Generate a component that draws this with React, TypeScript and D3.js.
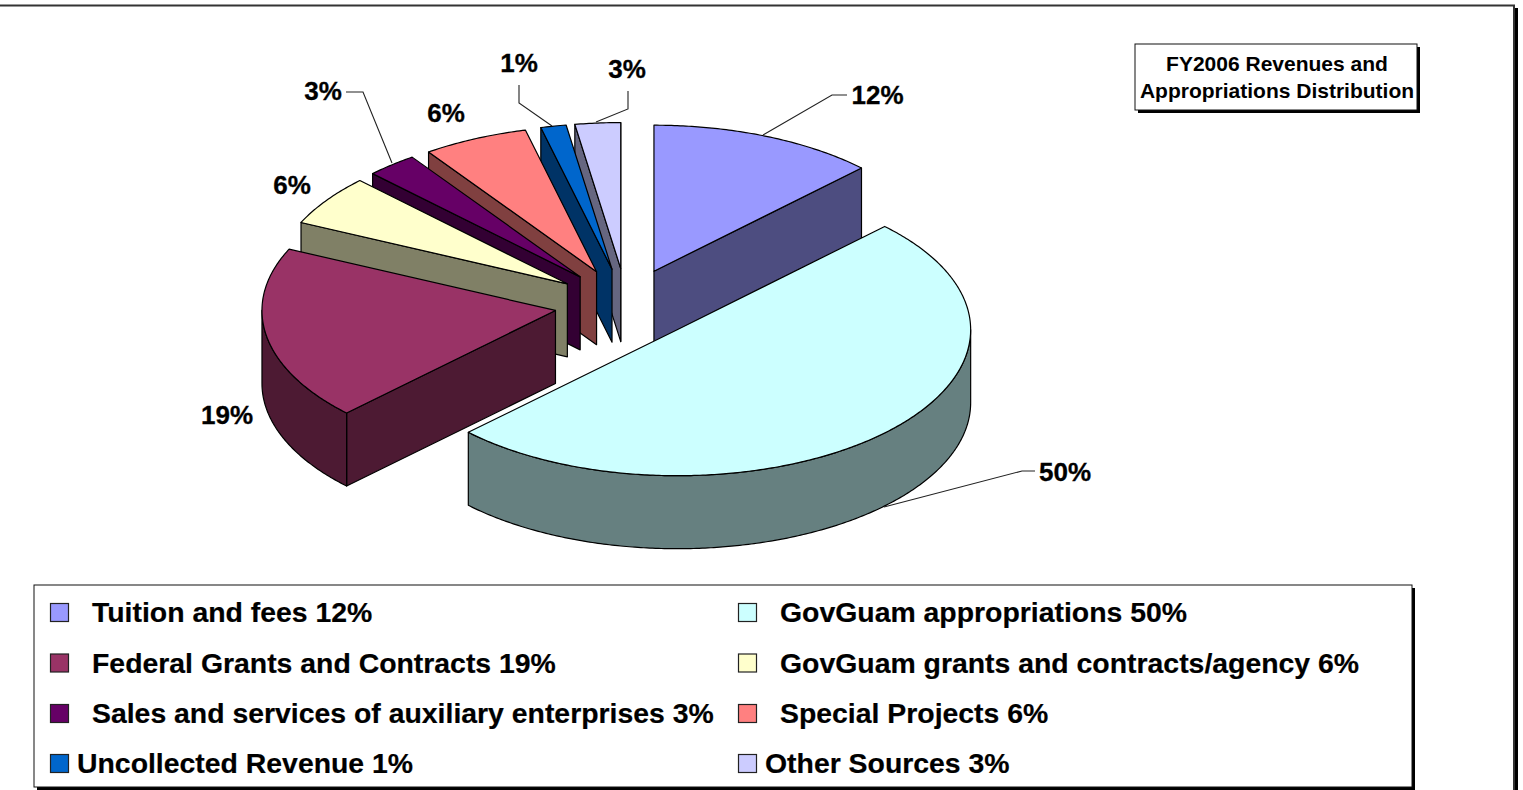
import React from "react";
import * as d3 from "d3";

const categories = ["Tuition and fees", "GovGuam appropriations", "Federal Grants and Contracts", "GovGuam grants and contracts/agency", "Sales and services of auxiliary enterprises", "Special Projects", "Uncollected Revenue", "Other Sources"];
const values = [12.5, 50.1, 19.3, 5.6, 2.8, 5.8, 1.4, 2.5];
const percentLabels = ["12%", "50%", "19%", "6%", "3%", "6%", "1%", "3%"];
const topColors = ["#9999FF", "#CCFFFF", "#993366", "#FFFFCC", "#660066", "#FF8080", "#0066CC", "#CCCCFF"];
const sideColors = ["#4D4D80", "#668080", "#4D1A33", "#808066", "#330033", "#804040", "#003366", "#666680"];
const labelX = [877.5, 1065, 227, 292, 323, 446, 519, 627];
const labelY = [104, 481, 424, 194, 100, 122, 71.5, 78];
const leaders: ([number, number][] | null)[] = [
  [[763, 135], [832, 95], [847, 95]],
  [[884, 507], [1022, 471], [1035, 471]],
  null,
  null,
  [[392, 163], [363, 92], [346, 92]],
  null,
  [[552, 126], [519, 103], [519, 85]],
  [[596, 122], [628, 109], [628, 91]],
];
const legendOrder = [0, 1, 2, 3, 4, 5, 6, 7];
const legendTextX = [92, 780, 92, 780, 92, 780, 77, 765];
const legendSwatchX = [50, 738];
const legendBaseline = [622, 673, 723, 773];
const legendSwatchY = [603.5, 654, 704.5, 754.5];
const titleLines = ["FY2006 Revenues and", "Appropriations Distribution"];

const RX = 293.5, RY = 146, DEPTH = 73, EXPLODE = 72, CX = 626.4, CY = 304.3;
const FONT = "'Liberation Sans', Arial, sans-serif";

const line = d3.line<[number, number]>();
const sx = d3.scaleLinear().domain([-1, 1]).range([-RX, RX]);
const sy = d3.scaleLinear().domain([-1, 1]).range([-RY, RY]);

function pt(c: [number, number], t: number, dz = 0): [number, number] {
  return [c[0] + sx(Math.sin(t)), c[1] - sy(Math.cos(t)) + dz];
}
function arcPts(c: [number, number], a: number, b: number, dz = 0): [number, number][] {
  const n = Math.max(2, Math.ceil(Math.abs(b - a) / 0.01));
  return d3.range(n + 1).map((i) => pt(c, a + ((b - a) * i) / n, dz));
}

export default function App() {
  const arcs = d3.pie<number>().sort(null)(values);
  const slices = arcs.map((d, i) => {
    const a = d.startAngle, b = d.endAngle, m = (a + b) / 2;
    const c: [number, number] = [CX + EXPLODE * Math.sin(m), CY - (EXPLODE * RY / RX) * Math.cos(m)];
    const faces: string[] = [];
    if (Math.sin(b) > 0) faces.push(line([c, pt(c, b), pt(c, b, DEPTH), [c[0], c[1] + DEPTH]]) + "Z");
    if (Math.sin(a) < 0) faces.push(line([c, pt(c, a), pt(c, a, DEPTH), [c[0], c[1] + DEPTH]]) + "Z");
    const lo = Math.max(a, Math.PI / 2), hi = Math.min(b, (3 * Math.PI) / 2);
    if (hi > lo) faces.push(line([...arcPts(c, lo, hi), ...arcPts(c, hi, lo, DEPTH)]) + "Z");
    const top = line([c, ...arcPts(c, a, b)]) + "Z";
    return { i, c, faces, top };
  });
  const order = [7, 0, 6, 5, 4, 3, 2, 1];
  const stroke = { stroke: "#000", strokeWidth: 1.2, strokeLinejoin: "round" as const };

  return (
    <svg width={1523} height={790} style={{ position: "absolute", left: 0, top: 0, display: "block", background: "#fff" }}>
      <rect x={-6} y={8} width={1524} height={800} fill="#000" />
      <rect x={-9} y={5.5} width={1523} height={800} fill="#fff" stroke="#333" strokeWidth={2} />

      {order.map((k) => {
        const s = slices[k];
        return (
          <g key={k}>
            {s.faces.map((f, j) => (
              <path key={j} d={f} fill={sideColors[k]} {...stroke} />
            ))}
            <path d={s.top} fill={topColors[k]} {...stroke} />
          </g>
        );
      })}

      {leaders.map((l, i) => l && <path key={i} d={line(l)!} fill="none" stroke="#222" strokeWidth={1.1} />)}
      {percentLabels.map((t, i) => (
        <text key={i} x={labelX[i]} y={labelY[i]} textAnchor="middle" fontFamily={FONT} fontWeight="bold" fontSize={26} fill="#000" stroke="#000" strokeWidth={0.3}>{t}</text>
      ))}

      <rect x={1138} y={47} width={282} height={66} fill="#000" />
      <rect x={1135} y={44} width={282} height={66} fill="#fff" stroke="#111" strokeWidth={1} />
      {titleLines.map((t, i) => (
        <text key={i} x={1277} y={71 + i * 26.5} textAnchor="middle" fontFamily={FONT} fontWeight="bold" fontSize={21} fill="#000">{t}</text>
      ))}

      <rect x={37} y={588} width={1378} height={202} fill="#000" />
      <rect x={34} y={585} width={1378} height={202} fill="#fff" stroke="#111" strokeWidth={1} />
      {legendOrder.map((k, n) => {
        const col = n % 2, row = Math.floor(n / 2);
        return (
          <g key={k}>
            <rect x={legendSwatchX[col] + 0.5} y={legendSwatchY[row]} width={18} height={18} fill={topColors[k]} stroke="#222" strokeWidth={1.2} />
            <text x={legendTextX[n]} y={legendBaseline[row]} fontFamily={FONT} fontWeight="bold" fontSize={28.4} fill="#000" stroke="#000" strokeWidth={0.2}>{`${categories[k]} ${percentLabels[k]}`}</text>
          </g>
        );
      })}
    </svg>
  );
}
